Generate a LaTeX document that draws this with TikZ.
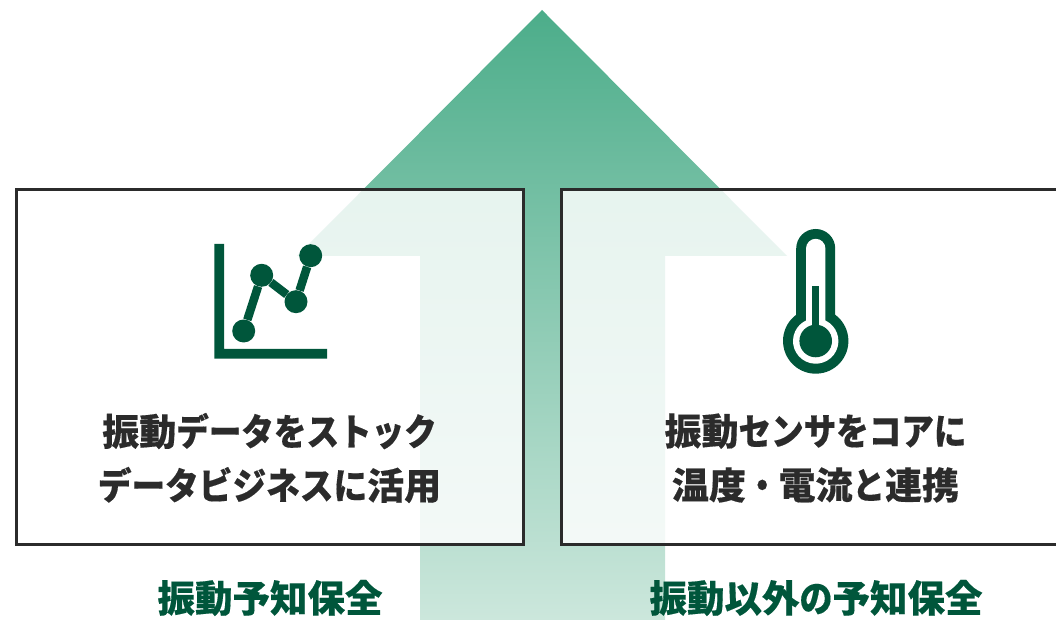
\documentclass[tikz,border=0pt]{standalone}
\usepackage{fontspec}
\newfontfamily\cjk[BoldFeatures={FakeBold=0.35}]{Noto Sans CJK JP}
\newfontfamily\kanafont[FakeStretch=0.88, BoldFeatures={FakeBold=0.35}]{Noto Sans CJK JP}
\newfontfamily\widekanafont[FakeStretch=0.91, BoldFeatures={FakeBold=0.35}]{Noto Sans CJK JP}
\newcommand{\kana}[1]{{\kanafont\bfseries #1}}
\newcommand{\widekana}[1]{{\widekanafont\bfseries #1}}
\definecolor{arrowtop}{HTML}{4CAD8A}
\definecolor{arrowbottom}{HTML}{CCE7DC}
\definecolor{icongreen}{HTML}{00563B}
\definecolor{boxline}{HTML}{2B2B2B}
\tikzset{
	panel/.style={draw=boxline, line width=3.4pt, fill=white, fill opacity=0.83, draw opacity=1, minimum height=355pt, inner sep=0pt},
	caption/.style={text=boxline, font=\cjk\bfseries\fontsize{37pt}{54pt}\selectfont, align=center, inner sep=0pt},
	sublabel/.style={text=icongreen, font=\cjk\bfseries\fontsize{37.5pt}{40pt}\selectfont, inner sep=0pt},
	dot/.style={circle, fill=icongreen, minimum size=23pt, inner sep=0pt},
	plotline/.style={draw=icongreen, line width=8.5pt},
}
\begin{document}
\begin{tikzpicture}[x=1pt, y=1pt]
	\useasboundingbox (0,0) rectangle (1056,620);
	% arrow behind the panels
	\shade[top color=arrowtop, bottom color=arrowbottom] (542,610) -- (787,364) -- (665,364) -- (665,0) -- (420,0) -- (420,364) -- (297,364) -- cycle;

	\node (left) [panel, anchor=north west, minimum width=507pt] at (15,432) {};
	\node (right) [panel, anchor=north west, minimum width=530pt] at (560,432) {};

	% chart icon
	\fill[icongreen] (214.3,376) -- (224,376) -- (224,271) -- (327,271) -- (327,261.3) -- (214.3,261.3) -- cycle;
	\node (p1) [dot] at (243.7,289) {};
	\node (p2) [dot] at (261.7,344.7) {};
	\node (p3) [dot] at (296,318.3) {};
	\node (p4) [dot] at (310.7,364.3) {};
	\draw[plotline] (p1) -- (p2);
	\draw[plotline] (p2) -- (p3);
	\draw[plotline] (p3) -- (p4);

	% thermometer icon
	\fill[icongreen] (796.2,305.25) -- (796.2,371.5) arc[start angle=180, end angle=0, radius=19.5] -- (835.2,305.25) arc[start angle=53.4, end angle=-233.4, radius=32.7] -- cycle;
	\fill[white] (806,299.5) -- (806,371.5) arc[start angle=180, end angle=0, radius=9.7] -- (825.4,299.5) arc[start angle=64.7, end angle=-244.7, radius=22.7] -- cycle;
	\fill[icongreen] (812.2,279) rectangle (819.2,334.3);
	\node (bulb) [circle, fill=icongreen, minimum size=32.6pt, inner sep=0pt] at (815.7,279) {};

	\node (leftcap) [caption] at (269.5,162) {振動\kana{データをストック}\\\widekana{データビジネスに}活用};
	\node (rightcap) [caption] at (815.5,162) {振動\kana{センサをコアに}\\温度\kana{・}電流\kana{と}連携};
	\node (leftsub) [sublabel] at (270,22) {振動予知保全};
	\node (rightsub) [sublabel] at (816,22) {振動以外\kana{の}予知保全};
\end{tikzpicture}
\end{document}
